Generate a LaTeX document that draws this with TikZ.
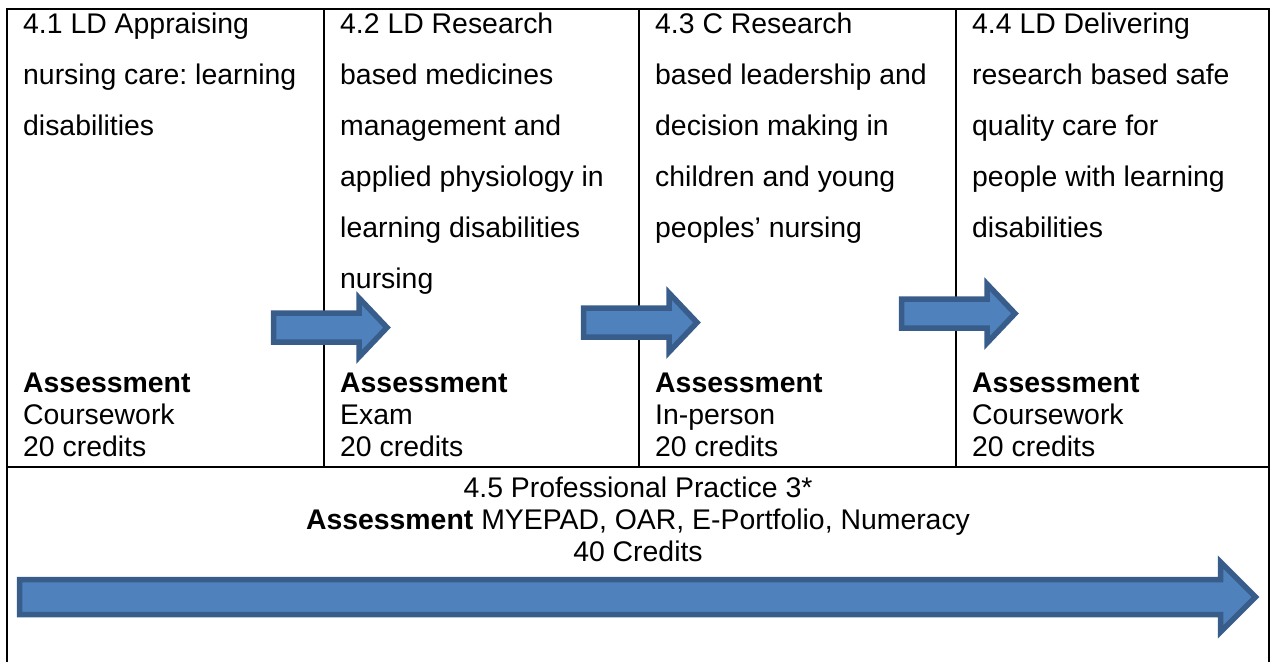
\documentclass[tikz,border=0pt]{standalone}
\usepackage{fontspec}
\setmainfont{Liberation Sans}
\frenchspacing
\definecolor{arrowblue}{RGB}{79,129,189}
\definecolor{arrowedge}{RGB}{56,93,138}
\usetikzlibrary{shapes, arrows.meta, positioning}

\tikzset{
  celltext/.style={anchor=north west, inner sep=0pt, align=left, font=\fontsize{28.4}{51}\selectfont},
  assesstext/.style={anchor=north west, inner sep=0pt, align=left, font=\fontsize{28.4}{32}\selectfont},
  blockarrow/.style={single arrow, draw=arrowedge, fill=arrowblue, line width=5.5pt, inner sep=0pt, inner ysep=11.75pt,
    single arrow head extend=15pt, single arrow tip angle=93, minimum height=113.5pt, anchor=tail},
  gridline/.style={line width=2pt, black}
}

\begin{document}
\begin{tikzpicture}[x=1pt, y=-1pt]
  \useasboundingbox (0,0) rectangle (1275,662);
  \draw[gridline] (7,662) -- (7,9) -- (1269,9) -- (1269,662);
  \draw[gridline] (7,467) -- (1269,467);
  \foreach \x in {324,639,956}
    \draw[gridline] (\x,9) -- (\x,467);

  \node[celltext] (mod1) at (23,12.7) {4.1 LD Appraising\\nursing care: learning\\disabilities};
  \node[celltext] (mod2) at (340,12.7) {4.2 LD Research\\based medicines\\management and\\applied physiology in\\learning disabilities\\nursing};
  \node[celltext] (mod3) at (655,12.7) {4.3 C Research\\based leadership and\\decision making in\\children and young\\peoples’ nursing};
  \node[celltext] (mod4) at (972,12.7) {4.4 LD Delivering\\research based safe\\quality care for\\people with learning\\disabilities};

  \node[assesstext] (ass1) at (23,372.7) {\textbf{Assessment}\\Coursework\\20 credits};
  \node[assesstext] (ass2) at (340,372.7) {\textbf{Assessment}\\Exam\\20 credits};
  \node[assesstext] (ass3) at (655,372.7) {\textbf{Assessment}\\In-person\\20 credits};
  \node[assesstext] (ass4) at (972,372.7) {\textbf{Assessment}\\Coursework\\20 credits};

  \node[assesstext, anchor=north, align=center] (prac) at (638,476.5) {4.5 Professional Practice 3*\\\textbf{Assessment} MYEPAD, OAR, E-Portfolio, Numeracy\\40 Credits};

  \node[blockarrow] (arr1) at (270.75,327.5) {};
  \node[blockarrow] (arr2) at (580.75,322.5) {};
  \node[blockarrow] (arr3) at (898.75,313.5) {};
  \node[blockarrow, inner ysep=14.75pt, single arrow head extend=17.5pt, single arrow tip angle=90, minimum height=1236pt] (arrlong) at (16.75,597) {};
\end{tikzpicture}
\end{document}
